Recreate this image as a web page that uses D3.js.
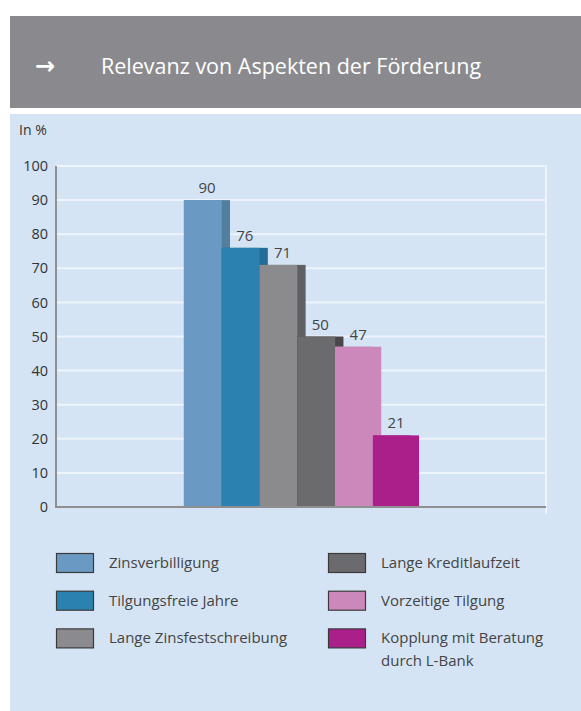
<!DOCTYPE html>
<html>
<head>
<meta charset="utf-8">
<script src="https://cdn.jsdelivr.net/npm/d3@7"></script>
<style>
html, body { margin: 0; padding: 0; background: #ffffff; }
svg { display: block; font-family: "Open Sans", "Noto Sans", sans-serif; }
</style>
</head>
<body>
<div id="chart"></div>
<script>
const title = "Relevanz von Aspekten der Förderung";
const unitLabel = "In %";
const categories = ["Zinsverbilligung", "Tilgungsfreie Jahre", "Lange Zinsfestschreibung", "Lange Kreditlaufzeit", "Vorzeitige Tilgung", "Kopplung mit Beratung durch L-Bank"];
const values = [90, 76, 71, 50, 47, 21];
const colors = ["#6a9ac3", "#2b82b0", "#8b8b8e", "#6b6b6e", "#cc88bb", "#ab1f8b"];
const sideColors = ["#527fa0", "#236d96", "#606062", "#48484a", "#cc88bb", "#ab1f8b"];
const yTicks = [0, 10, 20, 30, 40, 50, 60, 70, 80, 90, 100];
const legendLeft = [0, 1, 2];
const legendRight = [3, 4, 5];
const legendLines = [["Zinsverbilligung"], ["Tilgungsfreie Jahre"], ["Lange Zinsfestschreibung"], ["Lange Kreditlaufzeit"], ["Vorzeitige Tilgung"], ["Kopplung mit Beratung", "durch L-Bank"]];

const W = 581, H = 711;
const svg = d3.select("#chart").append("svg").attr("width", W).attr("height", H);

// header
svg.append("rect").attr("x", 10).attr("y", 16).attr("width", W - 10).attr("height", 92).attr("fill", "#8a8a8e");
svg.append("text").attr("x", 35).attr("y", 74).attr("fill", "#fff").attr("font-size", 24)
  .attr("font-weight", "bold").attr("font-family", "\"DejaVu Sans\", sans-serif").text("→");
svg.append("text").attr("x", 101).attr("y", 74).attr("fill", "#fff").attr("font-size", 21.5).text(title);

// panel
svg.append("rect").attr("x", 10).attr("y", 114).attr("width", W - 10).attr("height", H - 114).attr("fill", "#d4e4f4");
svg.append("text").attr("x", 19).attr("y", 135).attr("fill", "#333").attr("font-size", 14).text(unitLabel);

const plotL = 56, plotR = 546, plotT = 166, plotB = 507;
const y = d3.scaleLinear().domain([0, 100]).range([plotB, plotT]);
const x = d3.scaleBand().domain(categories).range([plotL, plotR]).paddingInner(0).paddingOuter(3.48).align(0.486);
const step = x.step();
const fullW = step * 1.22;

// gridlines
svg.append("g").selectAll("line").data(yTicks.filter(t => t > 0)).join("line")
  .attr("x1", plotL).attr("x2", plotR).attr("y1", d => y(d)).attr("y2", d => y(d))
  .attr("stroke", "#eef4fb").attr("stroke-width", 2);
// right border line
svg.append("line").attr("x1", plotR).attr("x2", plotR).attr("y1", plotT - 1).attr("y2", plotB + 7)
  .attr("stroke", "#eef4fb").attr("stroke-width", 2);

// y axis
const yAxis = d3.axisLeft(y).tickValues(yTicks).tickSize(0).tickPadding(8);
const ga = svg.append("g").attr("transform", `translate(${plotL},0)`).call(yAxis);
ga.select(".domain").remove();
ga.selectAll("text").attr("font-size", 14.5).attr("fill", "#333").attr("font-family", "\"Open Sans\", sans-serif");
svg.append("line").attr("x1", plotL).attr("x2", plotL).attr("y1", plotT).attr("y2", plotB + 1)
  .attr("stroke", "#8f8f92").attr("stroke-width", 2);

// bars
const bars = svg.append("g").selectAll("g").data(categories).join("g");
bars.append("rect").attr("x", d => x(d)).attr("y", (d, i) => y(values[i]))
  .attr("width", fullW).attr("height", (d, i) => plotB - y(values[i]))
  .attr("fill", (d, i) => sideColors[i]);
bars.append("rect").attr("x", d => x(d)).attr("y", (d, i) => y(values[i]))
  .attr("width", step).attr("height", (d, i) => plotB - y(values[i]))
  .attr("fill", (d, i) => colors[i]);
bars.append("text").attr("x", d => x(d) + fullW / 2).attr("y", (d, i) => y(values[i]) - 7)
  .attr("text-anchor", "middle").attr("font-size", 15).attr("fill", "#444")
  .text((d, i) => values[i]);

// x axis line
svg.append("line").attr("x1", plotL - 1).attr("x2", plotR).attr("y1", plotB).attr("y2", plotB)
  .attr("stroke", "#8f8f92").attr("stroke-width", 2);

// legend
function legendCol(idx, sx, tx) {
  const g = svg.append("g").selectAll("g").data(idx).join("g")
    .attr("transform", (d, j) => `translate(0,${553 + j * 37.7})`);
  g.append("rect").attr("x", sx + 0.5).attr("y", 0.5).attr("width", 37).attr("height", 19)
    .attr("fill", d => colors[d]).attr("stroke", "#3a3a3a").attr("stroke-width", 1.2);
  g.each(function(d) {
    const t = d3.select(this).append("text").attr("x", tx).attr("y", 15).attr("font-size", 15).attr("fill", "#444");
    legendLines[d].forEach((ln, k) => t.append("tspan").attr("x", tx).attr("dy", k === 0 ? 0 : 23).text(ln));
  });
}
legendCol(legendLeft, 56, 109);
legendCol(legendRight, 328, 381);
</script>
</body>
</html>
